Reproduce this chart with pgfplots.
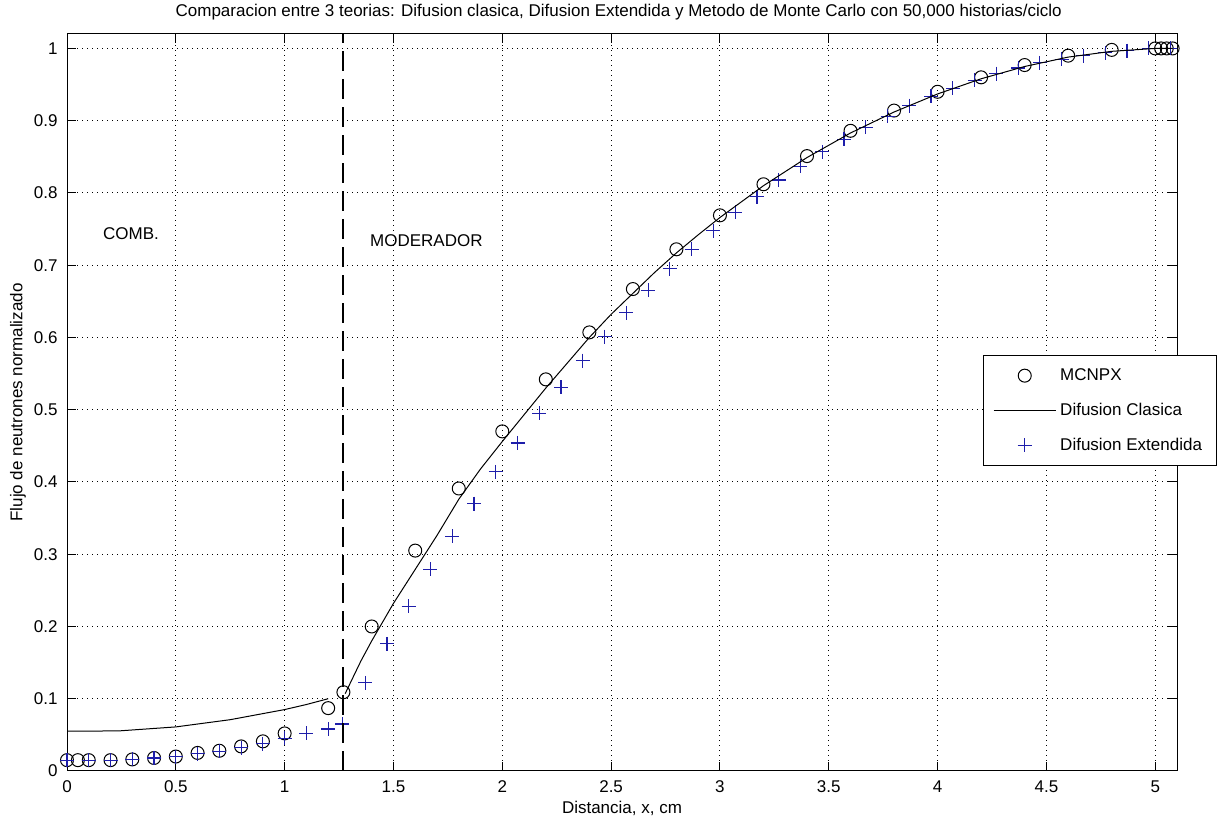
\documentclass[border=0pt]{standalone}
\usepackage{pgfplots}
\pgfplotsset{compat=1.18}
\usepackage{fontspec}
\setmainfont{Liberation Sans}
\definecolor{mblue}{RGB}{30,30,170}
\begin{document}
\fontsize{8.5pt}{10pt}\selectfont
\begin{tikzpicture}
\useasboundingbox (-33.5pt,-25.5pt) rectangle (577.5pt,385.5pt);
\begin{axis}[
  at={(0pt,0pt)}, anchor=south west,
  scale only axis, width=555pt, height=368.5pt,
  xmin=0, xmax=5.1, ymin=0, ymax=1.02,
  xtick={0,0.5,...,5}, ytick={0,0.1,...,1},
  xticklabels={0,0.5,1,1.5,2,2.5,3,3.5,4,4.5,5},
  yticklabels={0,0.1,0.2,0.3,0.4,0.5,0.6,0.7,0.8,0.9,1},
  /pgf/number format/assume math mode=true,
  tick align=inside, major tick length=4.5pt,
  tick style={black, line width=0.5pt},
  axis line style={black, line width=0.5pt},
  grid=major,
  grid style={black, line width=0.5pt, dash pattern=on 0.5pt off 2pt},
  xticklabel shift=1.7pt, yticklabel shift=1.7pt,
  every axis title shift=0pt,
  title={Comparacion entre 3 teorias: Difusion clasica, Difusion Extendida y Metodo de Monte Carlo con 50,000 historias/ciclo},
  title style={at={(axis description cs:0.497,1.0299)}, anchor=center},
  xlabel={Distancia, x, cm},
  xlabel style={at={(axis description cs:0.5,-0.0502)}, anchor=center},
  ylabel={Flujo de neutrones normalizado},
  ylabel style={at={(axis description cs:-0.0441,0.5)}, anchor=center},
  clip mode=individual,
  legend image code/.code={\draw[mark repeat=2,mark phase=2,#1] plot coordinates {(0pt,0pt) (15.5pt,0pt) (31pt,0pt)};},
  legend style={at={(rel axis cs:0.825,0.5645)}, anchor=north west,
    draw=black, line width=0.5pt, inner xsep=5pt, inner ysep=4.5pt,
    row sep=6pt, cells={anchor=west}},
]
\addplot[black, only marks, mark=o, mark size=3.25pt, mark options={line width=0.5pt}] coordinates {
(0,0.015) (0.05,0.015) (0.1,0.015) (0.2,0.015) (0.3,0.016) (0.4,0.018) (0.5,0.02) (0.6,0.025) (0.7,0.028) (0.8,0.034) (0.9,0.041) (1.0,0.052) (1.2,0.087) (1.27,0.109) (1.4,0.2) (1.6,0.305) (1.8,0.391) (2.0,0.47) (2.2,0.542) (2.4,0.607) (2.6,0.667) (2.8,0.722) (3.0,0.769) (3.2,0.812) (3.4,0.851) (3.6,0.886) (3.8,0.914) (4.0,0.94) (4.2,0.96) (4.4,0.977) (4.6,0.99) (4.8,0.998) (5.0,1.0) (5.027,1.0) (5.053,1.0) (5.08,1.0)};
\addlegendentry{MCNPX}
\addplot[black, line width=0.5pt, mark=none] coordinates {
(0,0.055) (0.24,0.0555) (0.5,0.061) (0.75,0.071) (1.0,0.085) (1.1,0.092) (1.2,0.1)};
\addlegendentry{Difusion Clasica}
\addplot[mblue, only marks, mark=+, mark size=3.5pt, mark options={line width=0.6pt}] coordinates {
(0,0.015) (0.1,0.015) (0.2,0.015) (0.3,0.016) (0.4,0.018) (0.5,0.02) (0.6,0.024) (0.7,0.027) (0.8,0.032) (0.9,0.038) (1.0,0.045) (1.1,0.052) (1.2,0.058) (1.265,0.065)
(1.37,0.122) (1.47,0.176) (1.57,0.228) (1.67,0.279) (1.77,0.325) (1.87,0.37) (1.97,0.414) (2.07,0.454) (2.17,0.495) (2.27,0.531) (2.37,0.568) (2.47,0.601) (2.57,0.634) (2.67,0.665) (2.77,0.695) (2.87,0.722) (2.97,0.748) (3.07,0.773) (3.17,0.795) (3.27,0.818) (3.37,0.837) (3.47,0.857) (3.57,0.874) (3.67,0.891) (3.77,0.906) (3.87,0.921) (3.97,0.934) (4.07,0.945) (4.17,0.956) (4.27,0.965) (4.37,0.973) (4.47,0.98) (4.57,0.985) (4.67,0.99) (4.77,0.994) (4.87,0.997) (4.97,1.0) (5.07,1.0)};
\addlegendentry{Difusion Extendida}
\addplot[black, line width=0.5pt, mark=none, forget plot] coordinates {
(1.278,0.107) (1.35,0.152) (1.4,0.18) (1.45,0.206) (1.5,0.232) (1.6,0.279) (1.7,0.326) (1.8,0.376) (1.9,0.418) (2.0,0.456) (2.1,0.493) (2.2,0.53) (2.3,0.565) (2.4,0.6) (2.5,0.632) (2.6,0.661) (2.7,0.69) (2.8,0.717) (2.9,0.742) (3.0,0.766) (3.2,0.81) (3.4,0.849) (3.6,0.883) (3.8,0.912) (4.0,0.937) (4.2,0.958) (4.4,0.975) (4.6,0.988) (4.8,0.996) (5.0,1.0) (5.08,1.0)};
\addplot[black, line width=0.6pt, dash pattern=on 10pt off 4pt, mark=none, forget plot] coordinates {(1.268,0) (1.268,1.02)};
\node[anchor=west] at (axis cs:0.138,0.744) {COMB.};
\node[anchor=west] at (axis cs:1.365,0.734) {MODERADOR};
\end{axis}
\end{tikzpicture}
\end{document}
